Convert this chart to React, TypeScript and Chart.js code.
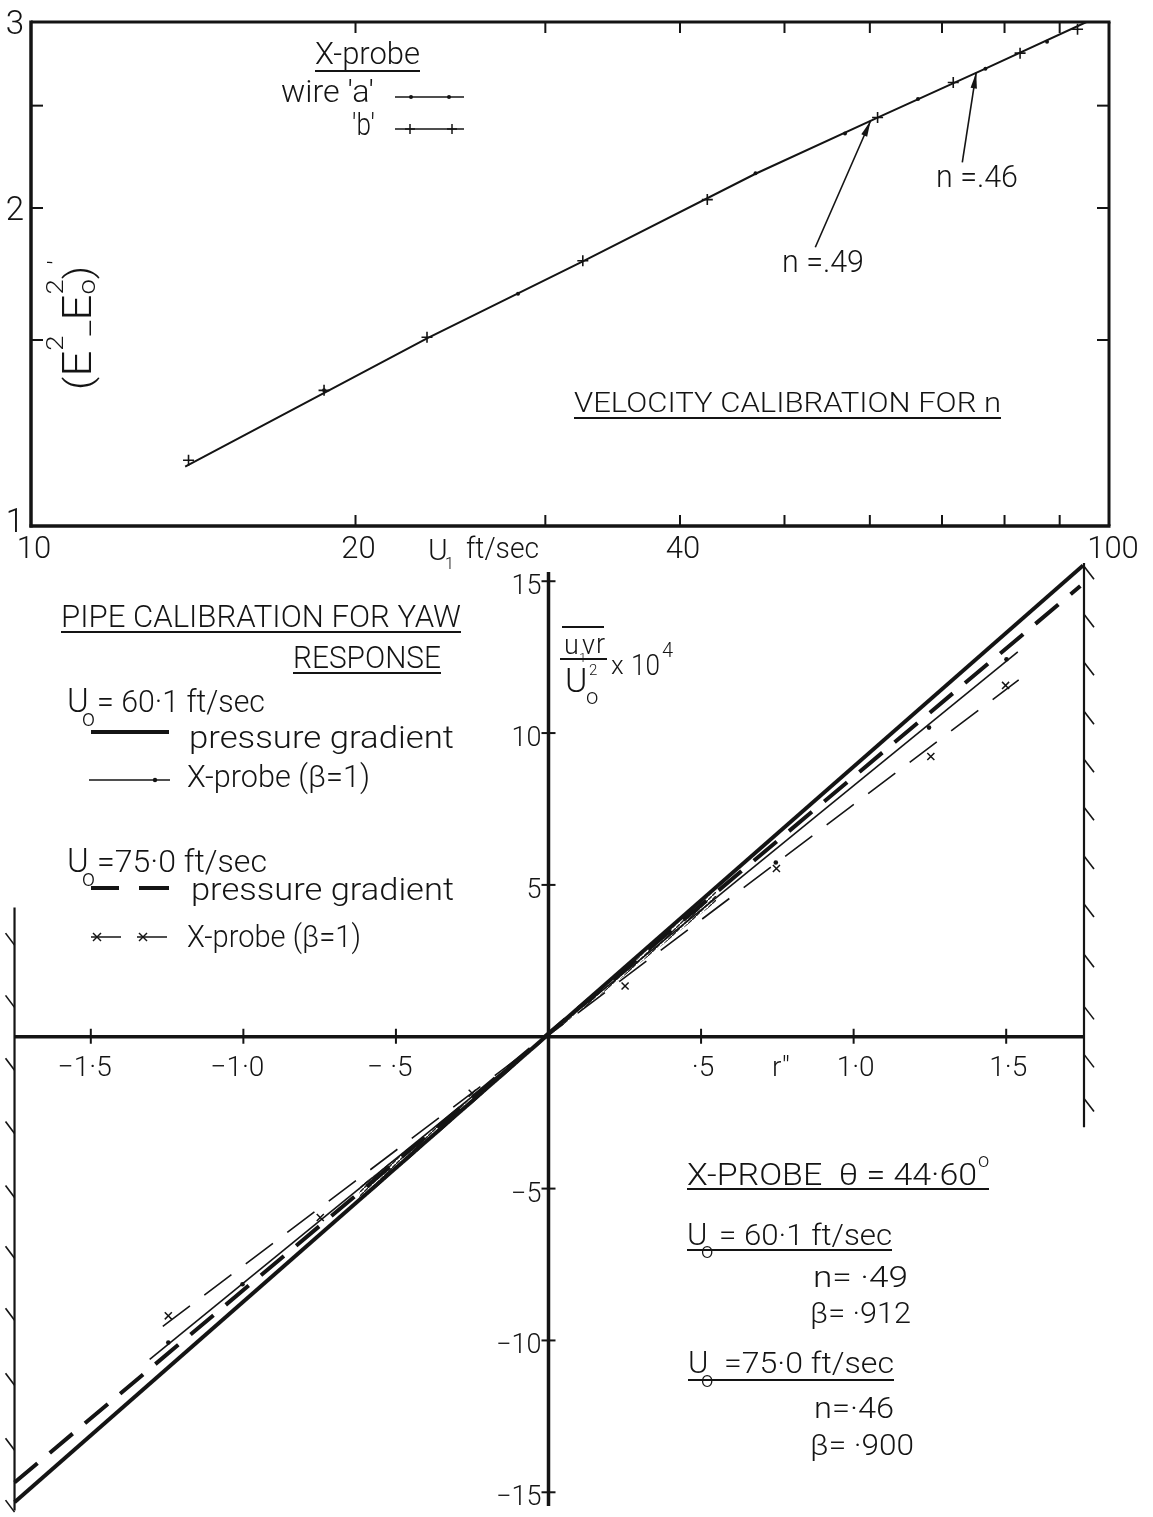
import React, { useEffect, useRef } from "react";
import { Chart, registerables } from "chart.js";
Chart.register(...registerables);

const W = 1153;
const H = 1517;
const INK = "#141414";
const FONT = 'Roboto, "Open Sans", "DejaVu Sans", sans-serif';

// ---------------- Top chart: velocity calibration (log-log) ----------------
const velXMin = 10;
const velXMax = 100;
const velYMin = 1;
const velYMax = 3;
const velXTickValues = [20, 30, 40, 50, 60, 70, 80, 90];
const velXLabelValues = [10, 20, 40, 100];
const velXLabels = ["10", "20", "40", "100"];
const velYTickValues = [1.5, 2, 2.5];
const velYLabelValues = [3, 2, 1];
const velYLabels = ["3", "2", "1"];

const wireA_U = [18.7, 28.3, 47.0, 56.9, 66.5, 76.8, 87.6];
const wireA_E = [1.344, 1.659, 2.157, 2.353, 2.536, 2.71, 2.874];
const wireB_U = [14.0, 18.7, 23.3, 32.5, 42.4, 61.0, 71.7, 82.7, 93.5];
const wireB_E = [1.154, 1.344, 1.509, 1.783, 2.037, 2.436, 2.629, 2.803, 2.953];
const fitU = [13.9, 23.3, 32.5, 47.0, 61.0, 76.8, 95.3];
const fitE = [1.138, 1.505, 1.78, 2.155, 2.436, 2.71, 3.0];

const arrowLabels = ["n =.49", "n =.46"];
const arrowTailU = [53.4, 73.1];
const arrowTailE = [1.836, 2.209];
const arrowTipU = [60.1, 75.3];
const arrowTipE = [2.419, 2.687];

// ---------------- Bottom chart: yaw response ----------------
const rMin = -1.755;
const rMax = 1.755;
const yawMin = -15.6;
const yawMax = 15.6;
const rTickValues = [-1.5, -1.0, -0.5, 0.5, 1.0, 1.5];
const rTickLabels = ["−1·5", "−1·0", "− ·5", "·5", "1·0", "1·5"];
const yawTickValues = [15, 10, 5, -5, -10, -15];
const yawTickLabels = ["15", "10", "5", "−5", "−10", "−15"];

const pg60R = [-1.75, 1.752];
const pg60Y = [-15.33, 15.52];
const pg75R = [-1.75, 1.743];
const pg75Y = [-14.68, 14.84];
const xp60LineR = [-1.307, 1.538];
const xp60LineY = [-10.62, 12.67];
const xp60PtR = [-1.246, -1.003, 0.745, 1.247, 1.501];
const xp60PtY = [-10.07, -8.15, 5.74, 10.18, 12.43];
const xp75LineR = [-1.264, 1.541];
const xp75LineY = [-9.54, 11.75];
const xp75PtR = [-1.246, -0.748, -0.25, 0.251, 0.747, 1.253, 1.498];
const xp75PtY = [-9.19, -5.95, -1.86, 1.67, 5.54, 9.23, 11.57];
const bandR = [-0.62, 0, 0.55];
const bandHiY = [-5.46, 0, 4.85];
const bandLoY = [-4.95, 0, 4.45];

const yAxisSpan = [15.3, -15.45];
const rightBorderSpan = [15.6, -2.98];
const leftBorderSpan = [4.26, -15.6];
const rightHatchY = [15.49, 13.91, 12.33, 10.72, 9.14, 7.56, 5.95, 4.37, 2.72, 1.0, -0.58, -2.03];
const leftHatchY = [3.05, 1.0, -1.07, -3.15, -5.26, -7.26, -9.3, -11.44, -13.58, -15.62];

// ---------------- drawing helpers ----------------
function fnt(size: number, weight = 300) {
  return `${weight} ${size}px ${FONT}`;
}

function txt(
  ctx: CanvasRenderingContext2D,
  s: string,
  x: number,
  y: number,
  size: number,
  opts: { w?: number; align?: "left" | "center" | "right"; weight?: number } = {}
) {
  ctx.save();
  ctx.font = fnt(size, opts.weight ?? 300);
  ctx.textAlign = "left";
  ctx.textBaseline = "alphabetic";
  const m = ctx.measureText(s).width || 1;
  const w = opts.w ?? m;
  let left = x;
  if (opts.align === "center") left = x - w / 2;
  else if (opts.align === "right") left = x - w;
  ctx.translate(left, y);
  ctx.scale(w / m, 1);
  ctx.fillStyle = INK;
  ctx.fillText(s, 0, 0);
  ctx.restore();
  return left + w;
}

type Seg = { t: string; s: number; dy?: number; stay?: boolean; gap?: number };
function drawRich(ctx: CanvasRenderingContext2D, segs: Seg[], x: number, y: number, targetW?: number) {
  let nat = 0;
  const widths: number[] = [];
  for (const sg of segs) {
    ctx.font = fnt(sg.s);
    const m = ctx.measureText(sg.t).width;
    widths.push(m);
    if (!sg.stay) nat += m + (sg.gap ?? 0);
  }
  const k = targetW ? targetW / nat : 1;
  ctx.save();
  ctx.translate(x, y);
  ctx.scale(k, 1);
  ctx.fillStyle = INK;
  ctx.textBaseline = "alphabetic";
  ctx.textAlign = "left";
  let cx = 0;
  segs.forEach((sg, i) => {
    ctx.font = fnt(sg.s);
    ctx.fillText(sg.t, cx, sg.dy ?? 0);
    if (!sg.stay) cx += widths[i] + (sg.gap ?? 0);
  });
  ctx.restore();
}

function seg(ctx: CanvasRenderingContext2D, x1: number, y1: number, x2: number, y2: number, w: number, dash: number[] = []) {
  ctx.save();
  ctx.strokeStyle = INK;
  ctx.lineWidth = w;
  ctx.lineCap = "butt";
  ctx.setLineDash(dash);
  ctx.beginPath();
  ctx.moveTo(x1, y1);
  ctx.lineTo(x2, y2);
  ctx.stroke();
  ctx.restore();
}

function arrow(ctx: CanvasRenderingContext2D, x1: number, y1: number, x2: number, y2: number) {
  seg(ctx, x1, y1, x2, y2, 1.6);
  const a = Math.atan2(y2 - y1, x2 - x1);
  const L = 16;
  const hw = 3.2;
  ctx.save();
  ctx.fillStyle = INK;
  ctx.beginPath();
  ctx.moveTo(x2, y2);
  ctx.lineTo(x2 - L * Math.cos(a) + hw * Math.sin(a), y2 - L * Math.sin(a) - hw * Math.cos(a));
  ctx.lineTo(x2 - L * Math.cos(a) - hw * Math.sin(a), y2 - L * Math.sin(a) + hw * Math.cos(a));
  ctx.closePath();
  ctx.fill();
  ctx.restore();
}

function dot(ctx: CanvasRenderingContext2D, x: number, y: number, r: number) {
  ctx.save();
  ctx.fillStyle = INK;
  ctx.beginPath();
  ctx.arc(x, y, r, 0, Math.PI * 2);
  ctx.fill();
  ctx.restore();
}

function plus(ctx: CanvasRenderingContext2D, x: number, y: number, r: number) {
  seg(ctx, x - r, y, x + r, y, 1.5);
  seg(ctx, x, y - r, x, y + r, 1.5);
}
function cross(ctx: CanvasRenderingContext2D, x: number, y: number, r: number) {
  seg(ctx, x - r, y - r, x + r, y + r, 1.5);
  seg(ctx, x - r, y + r, x + r, y - r, 1.5);
}

const zip = (xs: number[], ys: number[]) => xs.map((x, i) => ({ x, y: ys[i] }));

// ---------------- plugins ----------------
const topPlugin = {
  id: "topDeco",
  afterDraw(chart: any) {
    const ctx: CanvasRenderingContext2D = chart.ctx;
    const xs = chart.scales.x;
    const ys = chart.scales.y;
    const L = xs.getPixelForValue(velXMin);
    const R = xs.getPixelForValue(velXMax);
    const T = ys.getPixelForValue(velYMax);
    const B = ys.getPixelForValue(velYMin);
    // frame
    seg(ctx, L, T - 1.5, L, B + 1.5, 3.5);
    seg(ctx, L - 1.5, B, R + 1.5, B, 3.5);
    seg(ctx, L, T, R + 1.5, T, 3);
    seg(ctx, R, T, R, B, 3);
    // inward ticks
    velXTickValues.forEach((v) => {
      const px = xs.getPixelForValue(v);
      seg(ctx, px, B, px, B - 11, 2);
      seg(ctx, px, T, px, T + 11, 2);
    });
    velYTickValues.forEach((v) => {
      const py = ys.getPixelForValue(v);
      seg(ctx, L, py, L + 12, py, 2);
      seg(ctx, R, py, R - 12, py, 2);
    });
    // tick labels
    velYLabelValues.forEach((v, i) => {
      const py = ys.getPixelForValue(v);
      txt(ctx, velYLabels[i], L - 7, py + (i === 2 ? 6 : 12), 33, { align: "right" });
    });
    velXLabelValues.forEach((v, i) => {
      const px = xs.getPixelForValue(v);
      txt(ctx, velXLabels[i], px + (i === 3 ? 4 : 3), B + 32, 31, { align: "center" });
    });
    // axis titles
    txt(ctx, "U", 428, 560, 30);
    txt(ctx, "1", 445, 569, 16);
    txt(ctx, "ft/sec", 466, 558, 29, { w: 73 });
    ctx.save();
    ctx.translate(91, 390);
    ctx.rotate(-Math.PI / 2);
    drawRich(
      ctx,
      [
        { t: "(", s: 36 },
        { t: "E", s: 40 },
        { t: "2", s: 24, dy: -28 },
        { t: "_", s: 30, dy: -1 },
        { t: "E", s: 40 },
        { t: "o", s: 24, dy: 4, stay: true },
        { t: "2", s: 24, dy: -28 },
        { t: ")", s: 36, gap: 1 },
        { t: "'", s: 24, dy: -26 },
      ],
      0,
      0,
      130
    );
    ctx.restore();
    // legend
    txt(ctx, "X-probe", 315, 64, 31, { w: 105 });
    seg(ctx, 315, 71, 420, 71, 1.8);
    txt(ctx, "wire 'a'", 281, 102, 31, { w: 93 });
    seg(ctx, 395, 97, 464, 97, 1.5);
    dot(ctx, 411, 97, 2);
    dot(ctx, 449, 97, 2);
    txt(ctx, "'b'", 352, 135, 31, { w: 23 });
    seg(ctx, 395, 129, 464, 129, 1.5);
    plus(ctx, 410, 129, 5);
    plus(ctx, 452, 129, 5);
    // title
    txt(ctx, "VELOCITY CALIBRATION FOR n", 574, 412, 28, { w: 427 });
    seg(ctx, 574, 418, 1001, 418, 1.8);
    // arrow annotations
    const labelPos = [
      [782, 272],
      [936, 187],
    ];
    arrowLabels.forEach((s, i) => {
      txt(ctx, s, labelPos[i][0], labelPos[i][1], 32, { w: 82 });
      arrow(
        ctx,
        xs.getPixelForValue(arrowTailU[i]),
        ys.getPixelForValue(arrowTailE[i]),
        xs.getPixelForValue(arrowTipU[i]),
        ys.getPixelForValue(arrowTipE[i])
      );
    });
  },
};

const bottomPlugin = {
  id: "bottomDeco",
  afterDraw(chart: any) {
    const ctx: CanvasRenderingContext2D = chart.ctx;
    const xs = chart.scales.x;
    const ys = chart.scales.y;
    const x0 = xs.getPixelForValue(0);
    const y0 = ys.getPixelForValue(0);
    const L = xs.getPixelForValue(-1.75);
    const R = xs.getPixelForValue(rMax);
    // axes
    seg(ctx, L, y0, R, y0, 3.5);
    seg(ctx, x0, ys.getPixelForValue(yAxisSpan[0]), x0, ys.getPixelForValue(yAxisSpan[1]), 3.5);
    yawTickValues.forEach((v, i) => {
      const py = ys.getPixelForValue(v);
      seg(ctx, x0 - 7, py, x0 + 7, py, 2);
      txt(ctx, yawTickLabels[i], x0 - 7, py + 13, 27, { align: "right" });
    });
    rTickValues.forEach((v, i) => {
      const px = xs.getPixelForValue(v);
      seg(ctx, px, y0 - 8, px, y0 + 7, 2);
      txt(ctx, rTickLabels[i], px + (v < 0 ? -6 : 2), y0 + 39, 28, { align: "center" });
    });
    txt(ctx, "r\"", 772, y0 + 39, 28);
    // borders with hatching
    seg(ctx, R, ys.getPixelForValue(rightBorderSpan[0]), R, ys.getPixelForValue(rightBorderSpan[1]), 2.2);
    rightHatchY.forEach((v) => {
      const py = ys.getPixelForValue(v);
      seg(ctx, R, py, R + 10, py + 13, 1.6);
    });
    seg(ctx, L, ys.getPixelForValue(leftBorderSpan[0]), L, ys.getPixelForValue(leftBorderSpan[1]), 2.2);
    leftHatchY.forEach((v) => {
      const py = ys.getPixelForValue(v);
      seg(ctx, L - 9, py - 11, L, py + 1, 1.6);
    });
    // y-axis fraction label
    seg(ctx, 562, 627, 604, 627, 1.8);
    txt(ctx, "u", 564, 654, 27);
    txt(ctx, "1", 579, 662, 13);
    txt(ctx, "v", 582, 654, 27);
    txt(ctx, "r", 596, 653, 27);
    seg(ctx, 560, 659, 607, 659, 2);
    txt(ctx, "U", 565, 692, 34);
    txt(ctx, "2", 589, 675, 15);
    txt(ctx, "o", 586, 704, 22);
    txt(ctx, "x", 611, 674, 26);
    txt(ctx, "10", 631, 675, 30, { w: 29 });
    txt(ctx, "4", 662, 657, 20);
    // legend block
    txt(ctx, "PIPE CALIBRATION FOR YAW", 61, 627, 31, { w: 400 });
    seg(ctx, 61, 632, 461, 632, 1.8);
    txt(ctx, "RESPONSE", 293, 668, 31, { w: 148 });
    seg(ctx, 293, 673, 441, 673, 1.8);
    txt(ctx, "U", 67, 712, 33);
    txt(ctx, "o", 82, 726, 23);
    txt(ctx, "= 60·1 ft/sec", 97, 712, 31, { w: 168 });
    seg(ctx, 91, 732, 169, 732, 4);
    txt(ctx, "pressure gradient", 189, 748, 31, { w: 265 });
    seg(ctx, 89, 780, 170, 780, 1.5);
    dot(ctx, 155, 780, 2.2);
    txt(ctx, "X-probe (β=1)", 187, 787, 31, { w: 183 });
    txt(ctx, "U", 67, 872, 33);
    txt(ctx, "o", 82, 886, 23);
    txt(ctx, "=75·0 ft/sec", 97, 872, 31, { w: 170 });
    seg(ctx, 91, 888, 119, 888, 4);
    seg(ctx, 139, 888, 169, 888, 4);
    txt(ctx, "pressure gradient", 191, 900, 31, { w: 263 });
    seg(ctx, 91, 937, 121, 937, 1.5);
    seg(ctx, 137, 937, 167, 937, 1.5);
    cross(ctx, 97, 937, 4);
    cross(ctx, 143, 937, 4);
    txt(ctx, "X-probe (β=1)", 187, 947, 31, { w: 174 });
    // annotation block
    txt(ctx, "X-PROBE  θ = 44·60", 687, 1185, 31, { w: 290 });
    txt(ctx, "o", 978, 1167, 20);
    seg(ctx, 687, 1189, 989, 1189, 1.8);
    txt(ctx, "U", 687, 1245, 31);
    txt(ctx, "o", 701, 1258, 22);
    txt(ctx, "= 60·1 ft/sec", 719, 1245, 30, { w: 173 });
    seg(ctx, 687, 1250, 892, 1250, 1.8);
    txt(ctx, "n= ·49", 813, 1287, 30, { w: 95 });
    txt(ctx, "β= ·912", 810, 1323, 30, { w: 101 });
    txt(ctx, "U", 688, 1373, 31);
    txt(ctx, "o", 701, 1387, 22);
    txt(ctx, "=75·0 ft/sec", 724, 1373, 30, { w: 170 });
    seg(ctx, 688, 1380, 894, 1380, 1.8);
    txt(ctx, "n=·46", 814, 1418, 30, { w: 80 });
    txt(ctx, "β= ·900", 810, 1455, 30, { w: 104 });
  },
};

function hatchPattern(ctx: CanvasRenderingContext2D) {
  const c = document.createElement("canvas");
  c.width = 4;
  c.height = 4;
  const g = c.getContext("2d")!;
  g.strokeStyle = "rgba(20,20,20,0.95)";
  g.lineWidth = 1.4;
  g.beginPath();
  g.moveTo(0, 4);
  g.lineTo(4, 0);
  g.stroke();
  return ctx.createPattern(c, "repeat") as CanvasPattern;
}

export default function App() {
  const topRef = useRef<HTMLCanvasElement | null>(null);
  const botRef = useRef<HTMLCanvasElement | null>(null);

  useEffect(() => {
    const top = new Chart(topRef.current!, {
      type: "scatter",
      data: {
        datasets: [
          {
            label: "fit",
            data: zip(fitU, fitE),
            showLine: true,
            borderColor: INK,
            borderWidth: 2,
            pointRadius: 0,
            tension: 0,
          },
          {
            label: "wire 'a'",
            data: zip(wireA_U, wireA_E),
            pointStyle: "circle",
            pointRadius: 2,
            backgroundColor: INK,
            borderColor: INK,
            borderWidth: 0,
          },
          {
            label: "'b'",
            data: zip(wireB_U, wireB_E),
            pointStyle: "cross",
            pointRadius: 5.5,
            borderColor: INK,
            borderWidth: 1.6,
          },
        ],
      },
      options: {
        animation: false,
        responsive: false,
        devicePixelRatio: 1,
        events: [],
        layout: { padding: { left: 31, right: W - 1109, top: 22, bottom: H - 526 } },
        plugins: { legend: { display: false }, tooltip: { enabled: false } },
        scales: {
          x: { type: "logarithmic", min: velXMin, max: velXMax, display: false },
          y: { type: "logarithmic", min: velYMin, max: velYMax, display: false },
        },
      },
      plugins: [topPlugin],
    } as any);

    const bctx = botRef.current!.getContext("2d")!;
    const pat = hatchPattern(bctx);
    const bottom = new Chart(botRef.current!, {
      type: "scatter",
      data: {
        datasets: [
          {
            label: "bandHi",
            data: zip(bandR, bandHiY),
            showLine: true,
            borderWidth: 0,
            pointRadius: 0,
            fill: "+1",
            backgroundColor: pat,
          },
          {
            label: "bandLo",
            data: zip(bandR, bandLoY),
            showLine: true,
            borderWidth: 0,
            pointRadius: 0,
          },
          {
            label: "U0=60.1 pressure gradient",
            data: zip(pg60R, pg60Y),
            showLine: true,
            borderColor: INK,
            borderWidth: 4,
            pointRadius: 0,
          },
          {
            label: "U0=75.0 pressure gradient",
            data: zip(pg75R, pg75Y),
            showLine: true,
            borderColor: INK,
            borderWidth: 4,
            borderDash: [30, 16],
            pointRadius: 0,
          },
          {
            label: "U0=60.1 X-probe line",
            data: zip(xp60LineR, xp60LineY),
            showLine: true,
            borderColor: INK,
            borderWidth: 1.6,
            pointRadius: 0,
          },
          {
            label: "U0=60.1 X-probe",
            data: zip(xp60PtR, xp60PtY),
            pointStyle: "circle",
            pointRadius: 2.3,
            backgroundColor: INK,
            borderWidth: 0,
          },
          {
            label: "U0=75.0 X-probe line",
            data: zip(xp75LineR, xp75LineY),
            showLine: true,
            borderColor: INK,
            borderWidth: 1.6,
            borderDash: [34, 18],
            pointRadius: 0,
          },
          {
            label: "U0=75.0 X-probe",
            data: zip(xp75PtR, xp75PtY),
            pointStyle: "crossRot",
            pointRadius: 5,
            borderColor: INK,
            borderWidth: 1.5,
          },
        ],
      },
      options: {
        animation: false,
        responsive: false,
        devicePixelRatio: 1,
        events: [],
        layout: { padding: { left: 13, right: W - 1084, top: 563, bottom: 6 } },
        plugins: { legend: { display: false }, tooltip: { enabled: false }, filler: { propagate: false } },
        scales: {
          x: { type: "linear", min: rMin, max: rMax, display: false },
          y: { type: "linear", min: yawMin, max: yawMax, display: false },
        },
      },
      plugins: [bottomPlugin],
    } as any);

    return () => {
      top.destroy();
      bottom.destroy();
    };
  }, []);

  const cstyle: React.CSSProperties = { position: "absolute", left: 0, top: 0, width: W, height: H };
  return (
    <div style={{ position: "fixed", left: 0, top: 0, width: W, height: H, background: "#fff", overflow: "hidden" }}>
      <canvas ref={topRef} width={W} height={H} style={cstyle} />
      <canvas ref={botRef} width={W} height={H} style={cstyle} />
    </div>
  );
}
